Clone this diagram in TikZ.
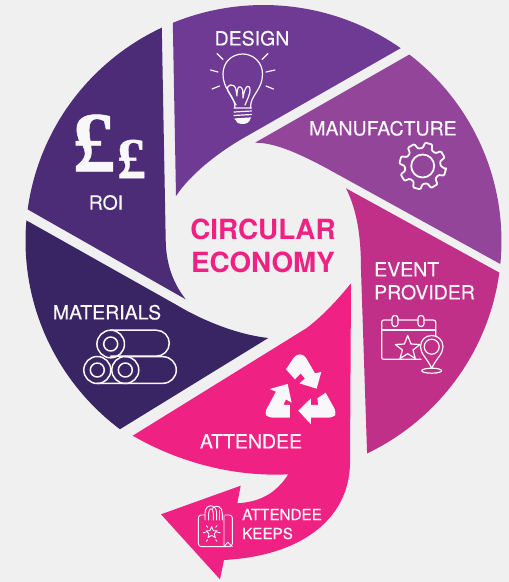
\documentclass[tikz,border=0pt]{standalone}
\usepackage{fontspec}
\setmainfont{TeX Gyre Heros}
\newfontfamily\labfont[FakeBold=0.25]{TeX Gyre Heros}
\newfontfamily\poundfont[FakeBold=0.6]{Liberation Serif Bold}
\definecolor{bgc}{HTML}{F0F0F0}
\definecolor{cdesign}{HTML}{6F3A94}
\definecolor{cmanu}{HTML}{93459A}
\definecolor{cevent}{HTML}{C03088}
\definecolor{cattend}{HTML}{EF2283}
\definecolor{cmat}{HTML}{392564}
\definecolor{croi}{HTML}{4C2C77}
\definecolor{iconw}{HTML}{F8F8FA}
\newcommand{\rimarc}[2]{plot[domain=#1:#2,samples=40] ({263.5+238*cos(\x)},{241+236*sin(\x)})}
\tikzset{
  lab/.style={text=iconw,inner sep=0pt,font=\fontsize{19.5}{19.5}\labfont},
  smalllab/.style={text=iconw,inner sep=0pt,anchor=west,font=\fontsize{15.2}{15.2}\labfont},
  title/.style={text=cattend,inner sep=0pt,font=\fontsize{27.8}{27.8}\selectfont\bfseries},
  icon/.style={draw=iconw,line width=1.8pt,line join=round,line cap=round},
  thinicon/.style={draw=iconw,line width=1.2pt,line join=round,line cap=round},
}
\begin{document}
\begin{tikzpicture}[x=1pt,y=-1pt]
\useasboundingbox (0,0) rectangle (509,582);
\fill[bgc] (0,0) rectangle (509,582);
% segments
\fill[cdesign] \rimarc{247.6}{305.2} -- (240,140) .. controls (215,155) and (190,175) .. (176,196) -- cycle;
\fill[cmanu] \rimarc{-52.2}{5.6} -- (326.7,168.3) .. controls (300,154) and (275,142.5) .. (255,142.7) -- cycle;
\fill[cevent] \rimarc{7.7}{64.2} -- (361,270) .. controls (361,240) and (358,212) .. (346,188.3) -- cycle;
\fill[cmat] \rimarc{127.1}{185} -- (176.7,305) .. controls (205,322) and (240,335) .. (268.3,338) -- cycle;
\fill[croi] \rimarc{187.7}{244.7} -- (165.7,240) .. controls (166,262) and (172,282) .. (185.7,299.3) -- cycle;
\fill[cattend] (351,283.3) .. controls (335,303) and (320,318) .. (306.7,328) -- (132.7,435.7)
  .. controls (180,463) and (235,477) .. (288.3,474.3)
  .. controls (275,495) and (258,502) .. (237.3,503.3) -- (240.7,485.7) -- (161,514.3) -- (220,579.3) -- (224,560)
  .. controls (300,556) and (349,520) .. (350,463.3) -- cycle;
% text
\node[title] (t1) at (263,229.5) {CIRCULAR};
\node[title] (t2) at (263,262.5) {ECONOMY};
\node[lab] (design) at (252,38.3) {DESIGN};
\node[lab] (manu) at (383,128.3) {MANUFACTURE};
\node[lab,anchor=west] (ev1) at (374,269.3) {EVENT};
\node[lab,anchor=west] (ev2) at (374,292.3) {PROVIDER};
\node[lab] (roi) at (106,202.5) {ROI};
\node[lab] (mat) at (107,312.3) {MATERIALS};
\node[lab] (att) at (251,441.3) {ATTENDEE};
\node[smalllab] (k1) at (242,514.5) {ATTENDEE};
\node[smalllab] (k2) at (242,533.5) {KEEPS};
% pounds
\node[text=iconw,inner sep=0pt,font=\fontsize{86}{86}\poundfont] (p1) at (94,143) {£};
\node[text=iconw,inner sep=0pt,font=\fontsize{58}{58}\poundfont] (p2) at (131.5,159) {£};
% bulb
\begin{scope}[thinicon]
  \draw (235,108) -- (234.5,103) .. controls (232,94) and (223,88) .. (223,74)
    .. controls (223,62) and (232,54) .. (242.7,54) .. controls (253,54) and (262.5,62) .. (262.5,74)
    .. controls (262.5,88) and (253,94) .. (251,103) -- (250.5,108);
  \draw (234,108) -- (251.5,108) (234,112) -- (251.5,111) (234,115.5) -- (251.5,114.5) (235,119) -- (250.5,118);
  \draw (236,105) -- (228,91) .. controls (225,84) and (235,82) .. (236,90) -- (237,96)
    (237,96) .. controls (237,86) and (240,84) .. (242.7,90) -- (243,98)
    (243,98) .. controls (245,84) and (250,84) .. (250,90) .. controls (250,94) and (248,98) .. (245,105);
  \draw (217,53.5) -- (223,59.5) (268,53.5) -- (262,59.5);
  \draw (210.5,70) -- (218,72) (275,70) -- (266,72);
  \draw (212,89) -- (219.5,86) (273.5,89) -- (266,86);
\end{scope}
\fill[iconw] (235,119) -- (250.5,118) .. controls (250,122) and (247,124) .. (242.7,124) .. controls (238,124) and (235.5,122) .. (235,119) -- cycle;
% gear
\begin{scope}[shift={(422.7,166)}]
  \draw[icon,rounded corners=1pt] (8:23.5)
    \foreach \a in {15,60,...,330} { -- (\a-9:23.5) -- (\a+9:23.5) -- (\a+15:18) -- (\a+30:18) }
    -- cycle;
  \draw[icon] (0,0) circle (11.5);
\end{scope}
% calendar
\begin{scope}[thinicon]
  \draw (392,320) -- (384,320) .. controls (382.5,320) and (381.7,321) .. (381.7,322) -- (381.7,357.5) .. controls (381.7,358.7) and (382.5,359.3) .. (384,359.3) -- (421,359.3);
  \draw (398,320) -- (418,320) (424,320) -- (433,320) .. controls (435,320) and (435.7,321) .. (435.7,322) -- (435.7,336);
  \draw (381.7,330) -- (435.7,330);
  \draw[rounded corners=2.8pt] (392,315.5) rectangle (398,326.5) (418,315.5) rectangle (424,326.5);
  \draw (407.7,335.5) -- (411,344) -- (420,344.5) -- (413,350) -- (415.3,358.5) -- (407.7,353.7) -- (400,358.5) -- (402.4,350) -- (395.4,344.5) -- (404.4,344) -- cycle;
  \draw (431.7,368.3) .. controls (427,358) and (420.5,354) .. (420.5,346.7) .. controls (420.5,340) and (425.5,335.5) .. (431.7,335.5) .. controls (438,335.5) and (443,340) .. (443,346.7) .. controls (443,354) and (436.5,358) .. (431.7,368.3) -- cycle;
  \draw (431.7,346.7) circle (7.5);
  \draw (431.7,370.7) ellipse (10 and 2.5);
\end{scope}
% rolls
\begin{scope}[icon,line width=1.5pt]
  \draw (110.7,330.2) -- (156.3,330.2) arc[start angle=-90,end angle=90,radius=13] -- (110.7,356.2);
  \draw (110.7,344) circle (13.8);
  \draw (110.7,344) circle (7);
  \draw (97.3,383.3) -- (163,383.3) arc[start angle=90,end angle=-90,radius=13.3] -- (125,356.7);
  \draw (97.3,370) circle (13.5);
  \draw (97.3,370) circle (7);
  \draw (125.3,370) circle (13.5);
  \draw (125.3,370) circle (7);
\end{scope}
% recycle
\begin{scope}[shift={(120,270)},x=0.3333pt,y=-0.3333pt]
  \fill[iconw] (498,298) [rounded corners=4pt] -- (528,253) -- (552,253) [sharp corners] -- (585,310) -- (604,306) -- (590,356) -- (538,340) -- (555,326) -- (542,310) -- (525,328) -- cycle;
  \fill[iconw] (503,342) -- (449,357) -- (468,365) [rounded corners=4pt] -- (433,430) -- (445,443) [sharp corners] -- (510,443) -- (510,405) -- (490,405) -- (498,388) -- (515,398) -- cycle;
  \fill[iconw] (535,422) -- (573,385) -- (573,405) -- (595,405) -- (592,385) -- (617,368) [rounded corners=4pt] -- (650,428) -- (640,443) [sharp corners] -- (573,443) -- (573,463) -- cycle;
\end{scope}
% bag
\begin{scope}[shift={(120,270)},x=0.3333pt,y=-0.3333pt,thinicon,line width=0.9pt]
  \draw[rounded corners=3pt] (255,735) -- (235,735) -- (235,830) -- (337,830) -- (337,735) -- (315,735);
  \draw (312,735) -- (312,830) (312,830) -- (323,817) -- (337,830);
  \draw (255,750) -- (255,730) .. controls (255,700) and (290,700) .. (290,730) -- (290,750);
  \draw (266,750) -- (266,730) .. controls (266,712) and (280,712) .. (280,730) -- (280,750);
  \draw (277,715) .. controls (290,702) and (307,710) .. (307,730) -- (307,750);
  \draw (297,722) -- (297,750);
  \draw (275,770) -- (280,782) -- (292,783) -- (283,791) -- (286,803) -- (275,796) -- (264,803) -- (267,791) -- (258,783) -- (270,782) -- cycle;
  \draw (250,788) -- (256,788) (294,788) -- (300,788) (259,767) -- (263,772) (291,767) -- (287,772) (259,814) -- (263,809) (291,814) -- (287,809);
\end{scope}
\end{tikzpicture}
\end{document}
